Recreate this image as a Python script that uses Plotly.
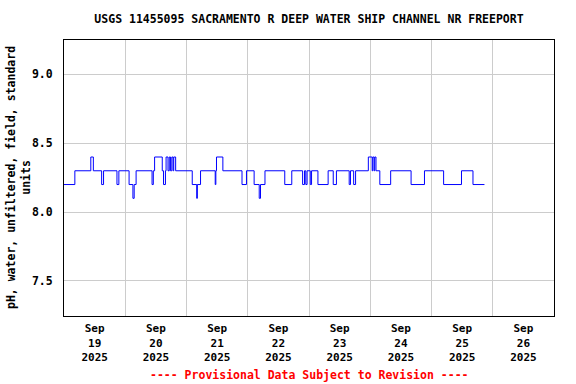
import plotly.graph_objects as go

# Step breakpoints (time, pH value)
times = [
    "2025-09-19 00:00", "2025-09-19 04:15", "2025-09-19 10:30", "2025-09-19 11:30",
    "2025-09-19 14:45", "2025-09-19 15:30", "2025-09-19 20:45", "2025-09-19 21:30",
    "2025-09-20 01:30", "2025-09-20 03:00", "2025-09-20 03:30", "2025-09-20 04:15",
    "2025-09-20 10:30", "2025-09-20 11:00", "2025-09-20 11:30", "2025-09-20 14:30",
    "2025-09-20 15:00", "2025-09-20 15:45", "2025-09-20 16:00", "2025-09-20 16:45",
    "2025-09-20 17:15", "2025-09-20 17:45", "2025-09-20 18:15", "2025-09-20 18:45",
    "2025-09-20 19:00", "2025-09-20 19:45",
    "2025-09-21 02:15", "2025-09-21 04:00", "2025-09-21 04:15", "2025-09-21 05:30",
    "2025-09-21 11:15", "2025-09-21 11:30", "2025-09-21 11:45", "2025-09-21 14:15",
    "2025-09-21 21:45", "2025-09-21 23:30",
    "2025-09-22 02:30", "2025-09-22 04:30", "2025-09-22 05:00", "2025-09-22 06:45",
    "2025-09-22 14:30", "2025-09-22 17:15", "2025-09-22 21:30", "2025-09-22 22:15",
    "2025-09-22 22:45", "2025-09-22 23:15",
    "2025-09-23 00:30", "2025-09-23 01:00", "2025-09-23 03:30", "2025-09-23 07:30",
    "2025-09-23 09:30", "2025-09-23 10:45", "2025-09-23 15:45", "2025-09-23 16:15",
    "2025-09-23 17:30", "2025-09-23 18:15", "2025-09-23 23:15",
    "2025-09-24 00:45", "2025-09-24 01:00", "2025-09-24 01:30", "2025-09-24 01:45",
    "2025-09-24 02:15", "2025-09-24 03:45", "2025-09-24 08:00", "2025-09-24 16:00",
    "2025-09-24 21:15",
    "2025-09-25 04:45", "2025-09-25 11:45", "2025-09-25 16:15", "2025-09-25 20:45",
]
ph_values = [
    8.2, 8.3, 8.4, 8.3,
    8.2, 8.3, 8.2, 8.3,
    8.2, 8.1, 8.2, 8.3,
    8.2, 8.3, 8.4, 8.3,
    8.2, 8.3, 8.4, 8.3,
    8.4, 8.3, 8.4, 8.3,
    8.4, 8.3,
    8.2, 8.1, 8.2, 8.3,
    8.2, 8.3, 8.4, 8.3,
    8.2, 8.3,
    8.2, 8.1, 8.2, 8.3,
    8.2, 8.3, 8.2, 8.3,
    8.2, 8.3,
    8.2, 8.3, 8.2, 8.3,
    8.2, 8.3, 8.2, 8.3,
    8.2, 8.3, 8.4,
    8.3, 8.4, 8.3, 8.4,
    8.3, 8.2, 8.3, 8.2,
    8.3,
    8.2, 8.3, 8.2, 8.2,
]

tick_days = ["2025-09-%02d 12:00" % d for d in range(19, 27)]
tick_text = ["Sep<br>%d<br>2025" % d for d in range(19, 27)]
y_ticks = [7.5, 8.0, 8.5, 9.0]
y_tick_text = ["7.5", "8.0", "8.5", "9.0"]

FONT = "DejaVu Sans Mono"

W, H = 576, 384
L, T, PW, PH = 64, 40, 490, 276

fig = go.Figure()
fig.add_trace(go.Scatter(
    x=times, y=ph_values, mode="lines", line_shape="hv",
    line=dict(color="#0000ff", width=1), showlegend=False,
))

fig.update_layout(
    width=W, height=H,
    margin=dict(l=L, r=W - L - PW, t=T, b=H - T - PH),
    paper_bgcolor="white", plot_bgcolor="white",
    title=dict(
        text="USGS 11455095 SACRAMENTO R DEEP WATER SHIP CHANNEL NR FREEPORT",
        x=0.5, xref="paper", xanchor="center",
        y=1 - 19 / H, yref="container", yanchor="middle",
        font=dict(family=FONT, size=11.5, color="black", weight="bold"),
    ),
    xaxis=dict(
        type="date",
        range=["2025-09-19 00:00", "2025-09-27 00:00"],
        tickmode="array", tickvals=tick_days, ticktext=tick_text,
        showgrid=False, ticks="", showline=True, linecolor="black",
        linewidth=1, mirror=True, zeroline=False, ticklabelstandoff=2,
        tickfont=dict(family=FONT, size=11, color="black", weight="bold"),
        minor=dict(tickmode="linear", tick0="2025-09-19", dtick=86400000,
                   showgrid=True, gridcolor="#cccccc", gridwidth=1, ticks=""),
    ),
    yaxis=dict(
        range=[7.245, 9.25],
        tickmode="array", tickvals=y_ticks, ticktext=y_tick_text,
        showgrid=True, gridcolor="#cccccc", gridwidth=1,
        ticks="", showline=True, linecolor="black", linewidth=1,
        mirror=True, zeroline=False, ticklabelstandoff=8,
        tickfont=dict(family=FONT, size=11.5, color="black", weight="bold"),
    ),
    annotations=[
        dict(text="pH, water, unfiltered, field, standard<br>units",
             xref="paper", yref="paper", x=(18 - L) / PW, y=0.5,
             xanchor="center", yanchor="middle", textangle=-90,
             showarrow=False,
             font=dict(family=FONT, size=11.5, color="black", weight="bold")),
        dict(text="---- Provisional Data Subject to Revision ----",
             xref="paper", yref="paper", x=0.5, y=-(375 - 316) / PH,
             xanchor="center", yanchor="middle", showarrow=False,
             font=dict(family=FONT, size=11.5, color="red", weight="bold")),
    ],
)

# Remove the default page margin so the figure sits at the window's corner.
fig.write_html("out.html",
               config={"displayModeBar": False},
               post_script="document.body.style.margin='0px';"
                           "document.body.style.overflow='hidden';")
